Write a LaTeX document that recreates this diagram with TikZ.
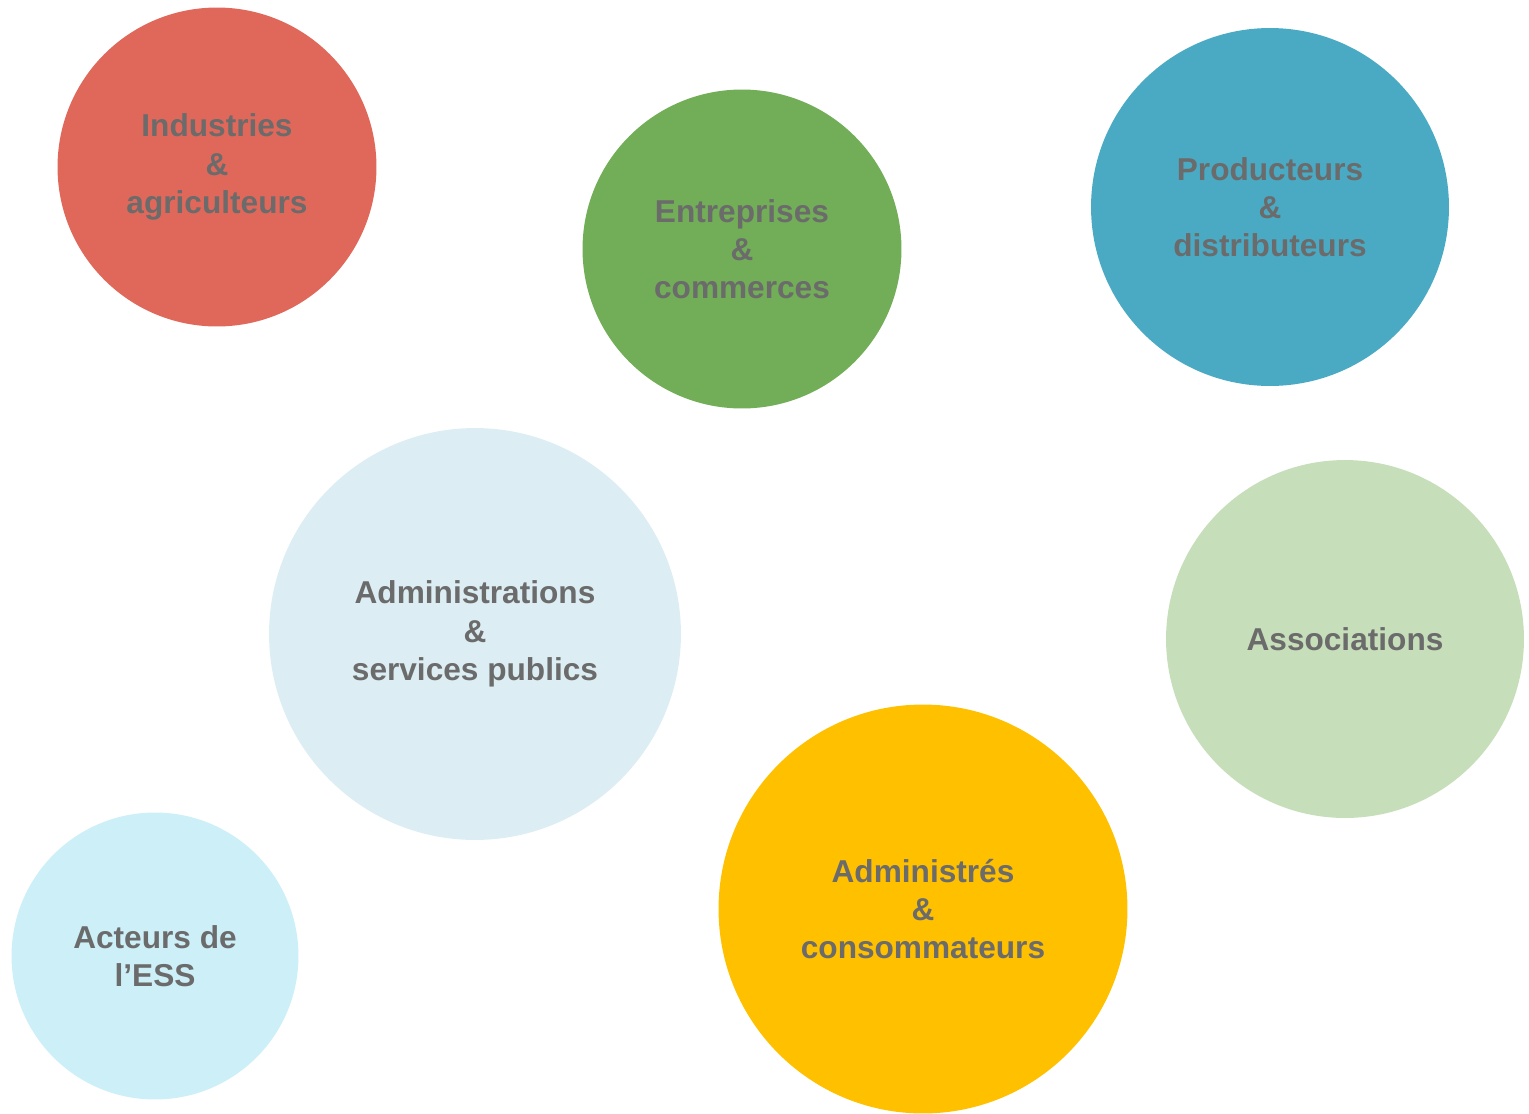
\documentclass[tikz,border=0pt]{standalone}
\usepackage{fontspec}
\setmainfont{Liberation Sans}
\usetikzlibrary{positioning}

\definecolor{redbub}{HTML}{E0685A}
\definecolor{greenbub}{HTML}{72AD57}
\definecolor{bluebub}{HTML}{4AAAC4}
\definecolor{palebluebub}{HTML}{DCEEF3}
\definecolor{palegreenbub}{HTML}{C6DFBA}
\definecolor{cyanbub}{HTML}{CCEFF8}
\definecolor{yellowbub}{HTML}{FFC000}
\definecolor{txtgray}{HTML}{6B6B6B}

\tikzset{
    bubble/.style={circle, fill=#1, draw=none, inner sep=0pt, align=center,
        text=txtgray, font=\fontsize{18}{21.8}\selectfont\bfseries}
}

\begin{document}
\begin{tikzpicture}[x=0.02cm, y=-0.02cm]
    % Canvas
    \useasboundingbox (0,0) rectangle (1529,1113);

    % Top row
    \node[bubble=redbub, minimum size=6.38cm] (indus) at (217,167)
        {Industries\\\&\\agriculteurs};
    \node[bubble=greenbub, minimum size=6.38cm] (entrep) at (742,249)
        {Entreprises\\\&\\commerces};
    \node[bubble=bluebub, minimum size=7.16cm] (prod) at (1270,207)
        {Producteurs\\\&\\distributeurs};

    % Middle
    \node[bubble=palebluebub, minimum size=8.24cm] (admin) at (475,634)
        {Administrations\\\&\\services publics};
    \node[bubble=palegreenbub, minimum size=7.16cm] (assoc) at (1345,639)
        {Associations};

    % Bottom
    \node[bubble=cyanbub, minimum size=5.74cm] (ess) at (155,956)
        {Acteurs de\\l’ESS};
    \node[bubble=yellowbub, minimum size=8.18cm] (conso) at (923,909)
        {Administrés\\\&\\consommateurs};
\end{tikzpicture}
\end{document}
